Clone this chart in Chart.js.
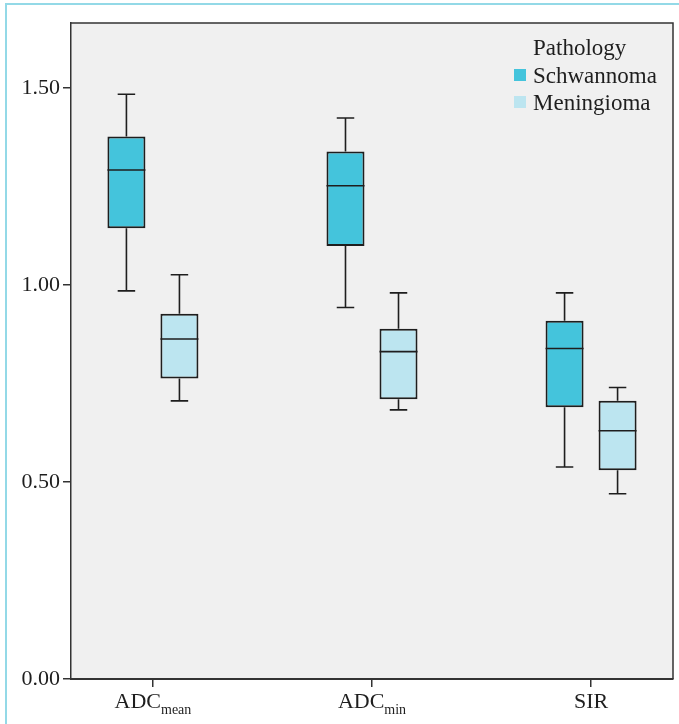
<!DOCTYPE html>
<html>
<head>
<meta charset="utf-8">
<script src="https://cdn.jsdelivr.net/npm/chart.js@4.4.0/dist/chart.umd.min.js"></script>
<style>
  html, body { margin: 0; padding: 0; background: #fff; }
  #wrap { position: relative; width: 679px; height: 724px; overflow: hidden; }
  #frame { position: absolute; left: 5px; top: 3px; right: -10px; bottom: -10px; border-left: 2px solid #93d9e7; border-top: 2px solid #93d9e7; }
  canvas { position: absolute; left: 0; top: 0; }
</style>
</head>
<body>
<div id="wrap">
  <div id="frame"></div>
  <canvas id="chart" width="679" height="724"></canvas>
</div>
<script>
// categories and tick labels
const categories = ['ADC_mean', 'ADC_min', 'SIR'];
const categoryMain = ['ADC', 'ADC', 'SIR'];
const categorySub = ['mean', 'min', ''];
const yTicks = [0, 0.5, 1.0, 1.5];

// box plot values
const schwannomaMin    = [0.985, 0.943, 0.538];
const schwannomaQ1     = [1.144, 1.099, 0.690];
const schwannomaMedian = [1.292, 1.252, 0.839];
const schwannomaQ3     = [1.377, 1.339, 0.909];
const schwannomaMax    = [1.484, 1.424, 0.980];

const meningiomaMin    = [0.706, 0.683, 0.470];
const meningiomaQ1     = [0.763, 0.710, 0.530];
const meningiomaMedian = [0.863, 0.831, 0.630];
const meningiomaQ3     = [0.927, 0.889, 0.706];
const meningiomaMax    = [1.026, 0.980, 0.740];

const FONT = 'Liberation Serif';
const INK = '#1e1e1e';

function boxData(q1, q3) {
  return categories.map((c, i) => ({ x: i, y: [q1[i], q3[i]] }));
}

// whiskers + medians, drawn on top of the floating bars
const whiskerPlugin = {
  id: 'whiskers',
  afterDatasetsDraw(chart) {
    const ctx = chart.ctx;
    const y = chart.scales.y;
    ctx.save();
    ctx.strokeStyle = INK;
    ctx.lineWidth = 1.6;
    chart.data.datasets.forEach((ds, di) => {
      const meta = chart.getDatasetMeta(di);
      meta.data.forEach((bar, i) => {
        const cx = bar.x;
        const half = bar.width / 2;
        const cap = bar.width * 0.23;
        const pMin = y.getPixelForValue(ds.stats.min[i]);
        const pQ1 = y.getPixelForValue(ds.stats.q1[i]);
        const pMed = y.getPixelForValue(ds.stats.median[i]);
        const pQ3 = y.getPixelForValue(ds.stats.q3[i]);
        const pMax = y.getPixelForValue(ds.stats.max[i]);
        ctx.beginPath();
        ctx.moveTo(cx, pQ3); ctx.lineTo(cx, pMax);
        ctx.moveTo(cx - cap, pMax); ctx.lineTo(cx + cap, pMax);
        ctx.moveTo(cx, pQ1); ctx.lineTo(cx, pMin);
        ctx.moveTo(cx - cap, pMin); ctx.lineTo(cx + cap, pMin);
        ctx.moveTo(cx - half, pMed); ctx.lineTo(cx + half, pMed);
        ctx.stroke();
      });
    });
    ctx.restore();
  }
};

// plot background, frame, x labels with subscripts, legend
const decorPlugin = {
  id: 'decor',
  beforeDraw(chart) {
    const { ctx, chartArea: a } = chart;
    ctx.save();
    ctx.fillStyle = '#f0f0f0';
    ctx.fillRect(a.left, a.top, a.right - a.left, a.bottom - a.top);
    ctx.restore();
  },
  afterDraw(chart) {
    const { ctx, chartArea: a } = chart;
    const x = chart.scales.x;
    ctx.save();
    ctx.strokeStyle = '#333';
    ctx.lineWidth = 1.5;
    ctx.beginPath();
    ctx.moveTo(a.left, a.top); ctx.lineTo(a.right, a.top); ctx.lineTo(a.right, a.bottom);
    ctx.stroke();

    ctx.fillStyle = INK;
    ctx.textBaseline = 'alphabetic';
    ctx.textAlign = 'left';
    categories.forEach((c, i) => {
      const cx = x.getPixelForValue(i);
      ctx.font = '22px "' + FONT + '"';
      const wMain = ctx.measureText(categoryMain[i]).width;
      ctx.font = '14px "' + FONT + '"';
      const wSub = categorySub[i] ? ctx.measureText(categorySub[i]).width : 0;
      const start = cx - (wMain + wSub) / 2;
      ctx.font = '22px "' + FONT + '"';
      ctx.fillText(categoryMain[i], start, 708);
      if (categorySub[i]) {
        ctx.font = '14px "' + FONT + '"';
        ctx.fillText(categorySub[i], start + wMain, 714);
      }
    });

    ctx.font = '23px "' + FONT + '"';
    ctx.fillText('Pathology', 533, 55);
    chart.data.datasets.forEach((ds, di) => {
      const top = 69 + di * 27;
      ctx.fillStyle = ds.backgroundColor;
      ctx.fillRect(514, top, 12, 12);
      ctx.fillStyle = INK;
      ctx.fillText(ds.label, 533, top + 14);
    });
    ctx.restore();
  }
};

new Chart(document.getElementById('chart'), {
  type: 'bar',
  data: {
    datasets: [
      {
        label: 'Schwannoma',
        data: boxData(schwannomaQ1, schwannomaQ3),
        stats: { min: schwannomaMin, q1: schwannomaQ1, median: schwannomaMedian, q3: schwannomaQ3, max: schwannomaMax },
        backgroundColor: '#44c4dc',
        borderColor: INK,
        borderWidth: 2,
        borderSkipped: false
      },
      {
        label: 'Meningioma',
        data: boxData(meningiomaQ1, meningiomaQ3),
        stats: { min: meningiomaMin, q1: meningiomaQ1, median: meningiomaMedian, q3: meningiomaQ3, max: meningiomaMax },
        backgroundColor: '#bce5f0',
        borderColor: INK,
        borderWidth: 2,
        borderSkipped: false
      }
    ]
  },
  options: {
    responsive: false,
    animation: false,
    categoryPercentage: 0.484,
    barPercentage: 0.717,
    layout: { padding: { left: 0, top: 23, right: 6, bottom: 0 } },
    plugins: { legend: { display: false }, tooltip: { enabled: false } },
    scales: {
      x: {
        type: 'linear',
        min: -0.374,
        max: 2.374,
        offset: false,
        afterBuildTicks: s => { s.ticks = categories.map((c, i) => ({ value: i })); },
        afterFit: s => { s.height = 45; },
        ticks: { display: false },
        grid: { offset: false, drawOnChartArea: false, tickLength: 8, color: '#333', lineWidth: 1.5 },
        border: { color: '#333', width: 2 }
      },
      y: {
        min: 0,
        max: 1.665,
        afterBuildTicks: s => { s.ticks = yTicks.map(v => ({ value: v })); },
        afterFit: s => { s.width = 71; },
        ticks: {
          callback: v => v.toFixed(2),
          font: { family: FONT, size: 22 },
          color: INK,
          padding: 3
        },
        grid: { drawOnChartArea: false, tickLength: 8, color: '#333', lineWidth: 1.5 },
        border: { color: '#333', width: 1.5 }
      }
    }
  },
  plugins: [whiskerPlugin, decorPlugin]
});
</script>
</body>
</html>
